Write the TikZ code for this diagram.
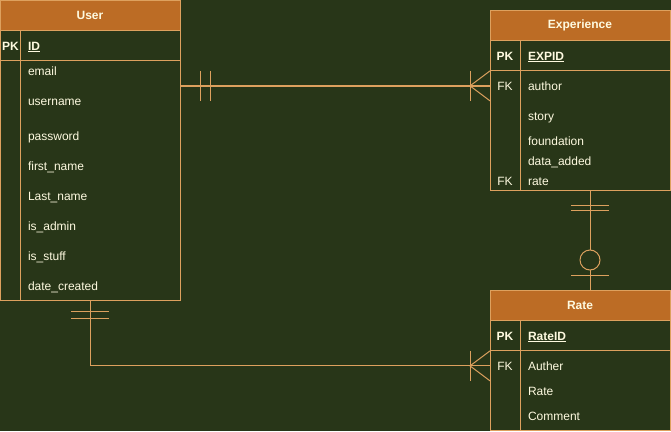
\documentclass[tikz,border=0pt]{standalone}
\usepackage{fontspec}
\setmainfont{Liberation Sans}
\usetikzlibrary{calc}
\definecolor{bgreen}{HTML}{283618}
\definecolor{rust}{HTML}{BC6C25}
\definecolor{sand}{HTML}{DDA15E}
\definecolor{cream}{HTML}{FEFAE0}

\begin{document}
\begin{tikzpicture}[x=1pt,y=-1pt,
  every node/.style={font=\fontsize{12}{14}\selectfont,text=cream,inner sep=0pt,outer sep=0pt},
  tablebox/.style={draw=sand,line width=1pt,anchor=north west,minimum width=180pt},
  header/.style={tablebox,fill=rust,minimum height=30pt,font=\fontsize{12}{14}\selectfont\bfseries},
  field/.style={anchor=base west},
  pkfield/.style={anchor=base west,font=\fontsize{12}{14}\selectfont\bfseries},
  keytag/.style={anchor=base},
  pktag/.style={anchor=base,font=\fontsize{12}{14}\selectfont\bfseries},
  rel/.style={draw=sand,line width=1pt}
]
  \useasboundingbox (0,0) rectangle (671,431);
  \fill[bgreen] (0,0) rectangle (671,431);

  % User table
  \node[header] (user) at (0,0) {User};
  \node[tablebox,minimum height=30pt] (userpk) at (user.south west) {};
  \node[tablebox,minimum height=240pt] (userbody) at (userpk.south west) {};
  \draw[rel] ([xshift=20pt]userpk.north west) -- ([xshift=20pt]userbody.south west);
  \node[pktag] (userpktag) at (10.5,50) {PK};
  \node[pkfield] (userid) at (28,50) {\underline{ID}};
  \foreach \t/\y [count=\i] in {email/75,username/105,password/140,first\_name/170,
      Last\_name/200,is\_admin/230,is\_stuff/260,date\_created/290} {
    \node[field] (uf\i) at (28,\y) {\t};
  };

  % Experience table
  \node[header] (exp) at (490,10) {Experience};
  \node[tablebox,minimum height=30pt] (exppk) at (exp.south west) {};
  \node[tablebox,minimum height=120pt] (expbody) at (exppk.south west) {};
  \draw[rel] ([xshift=30pt]exppk.north west) -- ([xshift=30pt]expbody.south west);
  \node[pktag] (exppktag) at (505,60) {PK};
  \node[pkfield] (expid) at (528,60) {\underline{EXPID}};
  \node[keytag] (expfk1) at (505,90) {FK};
  \node[keytag] (expfk2) at (505,185) {FK};
  \foreach \t/\y [count=\i] in {author/90,story/120,foundation/145,data\_added/165,rate/185} {
    \node[field] (ef\i) at (528,\y) {\t};
  };

  % Rate table
  \node[header] (rate) at (490,290) {Rate};
  \node[tablebox,minimum height=30pt] (ratepk) at (rate.south west) {};
  \node[tablebox,minimum height=80pt] (ratebody) at (ratepk.south west) {};
  \draw[rel] ([xshift=30pt]ratepk.north west) -- ([xshift=30pt]ratebody.south west);
  \node[pktag] (ratepktag) at (505,340) {PK};
  \node[pkfield] (rateid) at (528,340) {\underline{RateID}};
  \node[keytag] (ratefk) at (505,370) {FK};
  \foreach \t/\y [count=\i] in {Auther/370,Rate/395,Comment/420} {
    \node[field] (rf\i) at (528,\y) {\t};
  };

  % User -- Experience
  \draw[rel,line width=1.5pt] (userbody.east |- expfk1) coordinate (a1)
    -- (expbody.west |- expfk1) coordinate (a2);
  \draw[rel] ($(a1)+(20,-15)$) -- ($(a1)+(20,15)$);
  \draw[rel] ($(a1)+(30,-15)$) -- ($(a1)+(30,15)$);
  \draw[rel] ($(a2)+(0,-15)$) -- ($(a2)+(-20,0)$) -- ($(a2)+(0,15)$);
  \draw[rel] ($(a2)+(-20,-15)$) -- ($(a2)+(-20,15)$);

  % Experience -- Rate
  \draw[rel] ($(expbody.south)+(10,0)$) coordinate (b1)
    -- ($(rate.north)+(10,0)$) coordinate (b2);
  \draw[rel] ($(b1)+(-19,15)$) -- ($(b1)+(19,15)$);
  \draw[rel] ($(b1)+(-19,20)$) -- ($(b1)+(19,20)$);
  \draw[rel,fill=bgreen] ($(b2)+(0,-30)$) circle (10pt);
  \draw[rel] ($(b2)+(-19,-15)$) -- ($(b2)+(19,-15)$);

  % User -- Rate
  \draw[rel] (userbody.south) coordinate (c1) |- (ratebody.west |- ratefk) coordinate (c2);
  \draw[rel] ($(c1)+(-19,11)$) -- ($(c1)+(19,11)$);
  \draw[rel] ($(c1)+(-19,18)$) -- ($(c1)+(19,18)$);
  \draw[rel] ($(c2)+(0,-15)$) -- ($(c2)+(-20,0)$) -- ($(c2)+(0,15)$);
  \draw[rel] ($(c2)+(-20,-15)$) -- ($(c2)+(-20,15)$);
\end{tikzpicture}
\end{document}
